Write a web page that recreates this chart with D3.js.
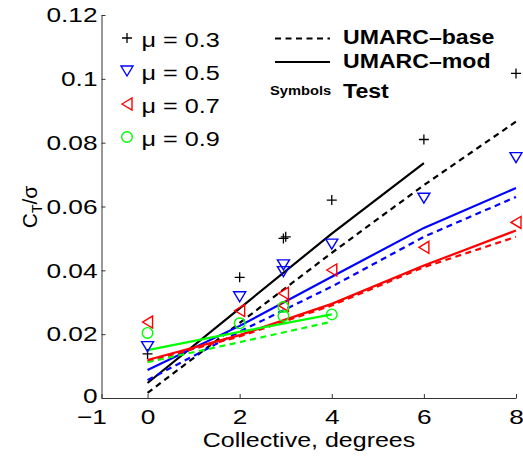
<!DOCTYPE html>
<html>
<head>
<meta charset="utf-8">
<script src="https://cdn.jsdelivr.net/npm/d3@7"></script>
<style>
body { margin:0; background:#fff; }
text { font-family: "Liberation Sans", Arial, sans-serif; }
</style>
</head>
<body>
<div id="chart"></div>
<script>
// collective pitch (deg) where the predictions are given
var predX = [0, 2, 4, 6, 8]
var predXshort = [0, 2, 4]

// UMARC predictions, C_T/sigma
var base03 = [0.0016, 0.0235, 0.0455, 0.0667, 0.0866]
var mod03 = [0.0047, 0.0281, 0.0515, 0.0736]
var base05 = [0.0056, 0.0208, 0.0349, 0.0505, 0.063]
var mod05 = [0.0088, 0.0226, 0.038, 0.0533, 0.0658]
var base07 = [0.0115, 0.0193, 0.029, 0.041, 0.0505]
var mod07 = [0.0119, 0.0197, 0.0295, 0.0415, 0.0525]
var base09 = [0.0112, 0.0175, 0.0239]
var mod09 = [0.015, 0.0207, 0.0262]

// test points
var test03x = [0, 2, 2.95, 3, 4, 6, 8]
var test03y = [0.0138, 0.0378, 0.0500, 0.0505, 0.062, 0.081, 0.1017]
var test05x = [0, 2, 2.95, 2.95, 4, 6, 8]
var test05y = [0.0161, 0.0317, 0.0417, 0.0396, 0.0482, 0.0626, 0.0753]
var test07x = [0, 2, 2.95, 2.95, 4, 6, 8]
var test07y = [0.0238, 0.0274, 0.0328, 0.029, 0.0401, 0.0472, 0.055]
var test09x = [0, 2, 2.95, 2.95, 4]
var test09y = [0.0204, 0.0234, 0.0285, 0.0257, 0.0262]

var xTicks = [-1, 0, 2, 4, 6, 8]
var yTicks = [0, 0.02, 0.04, 0.06, 0.08, 0.1, 0.12]
var muLabels = ["\u03bc = 0.3", "\u03bc = 0.5", "\u03bc = 0.7", "\u03bc = 0.9"]
var muColors = ["#000000", "#0000ff", "#ff0000", "#00ff00"]

var svg = d3.select('#chart')
  .append('svg')
  .attr('width', 523)
  .attr('height', 458)

var x = d3.scaleLinear().domain([-1, 8]).range([101.5, 516])
var y = d3.scaleLinear().domain([0, 0.12]).range([398, 15])

// axes
var xAxis = svg.append('g')
  .attr('transform', 'translate(0,398)')
  .call(d3.axisBottom(x).tickValues(xTicks).tickSize(-4).tickSizeOuter(0).tickPadding(11)
    .tickFormat(function(d) { return d < 0 ? "\u2212" + (-d) : d }))
xAxis.selectAll('text')
  .attr('font-size', 21)
  .attr('fill', '#000')
  .attr('x', function(d) { return d < 0 ? -8 : 0 })
  .attr('transform', 'scale(1.25,1)')
xAxis.selectAll('line, path').attr('stroke', '#333')

var yAxis = svg.append('g')
  .attr('transform', 'translate(101.5,0)')
  .call(d3.axisLeft(y).tickValues(yTicks).tickSize(-4).tickSizeOuter(0)
    .tickFormat(function(d) { return d === 0 ? "0" : String(+d.toFixed(2)) }))
yAxis.selectAll('text')
  .attr('font-size', 21)
  .attr('fill', '#000')
  .attr('x', -4 / 1.25)
  .attr('dy', function(d) { return d === 0 ? '0.22em' : '0.32em' })
  .attr('transform', 'scale(1.25,1)')
yAxis.selectAll('line, path').attr('stroke', '#333')

svg.append('text')
  .attr('x', 309)
  .attr('y', 447)
  .attr('font-size', 21)
  .attr('text-anchor', 'middle')
  .attr('transform', 'translate(309,0) scale(1.19,1) translate(-309,0)')
  .text('Collective, degrees')

var yl = svg.append('text')
  .attr('transform', 'translate(37,207) rotate(-90)')
  .attr('font-size', 21)
  .attr('text-anchor', 'middle')
yl.append('tspan').text('C')
yl.append('tspan').attr('font-size', 14).attr('dy', 5).text('T')
yl.append('tspan').attr('dy', -5).text('/\u03c3')

// prediction lines
var line = d3.line()
  .x(function(d) { return x(d[0]) })
  .y(function(d) { return y(d[1]) })

function drawLine(xs, ys, color, dashed) {
  svg.append('path')
    .datum(ys.map(function(v, i) { return [xs[i], v] }))
    .attr('d', line)
    .attr('fill', 'none')
    .attr('stroke', color)
    .attr('stroke-width', 2.2)
    .attr('stroke-dasharray', dashed ? '6,4.5' : null)
}
drawLine(predX, base03, muColors[0], true)
drawLine(predX.slice(0, 4), mod03, muColors[0], false)
drawLine(predX, base05, muColors[1], true)
drawLine(predX, mod05, muColors[1], false)
drawLine(predX, base07, muColors[2], true)
drawLine(predX, mod07, muColors[2], false)
drawLine(predXshort, base09, muColors[3], true)
drawLine(predXshort, mod09, muColors[3], false)

// marker shapes
function marker(g, kind, cx, cy, color) {
  if (kind === 0) {
    g.append('path').attr('d', 'M' + (cx - 5) + ',' + cy + 'h10M' + cx + ',' + (cy - 5) + 'v10')
      .attr('stroke', color).attr('stroke-width', 1.3).attr('fill', 'none')
  } else if (kind === 1) {
    g.append('path').attr('d', 'M' + (cx - 6) + ',' + (cy - 5) + 'L' + (cx + 6) + ',' + (cy - 5) + 'L' + cx + ',' + (cy + 5) + 'Z')
      .attr('stroke', color).attr('stroke-width', 1.4).attr('fill', 'none')
  } else if (kind === 2) {
    g.append('path').attr('d', 'M' + (cx - 5) + ',' + cy + 'L' + (cx + 5) + ',' + (cy - 6) + 'L' + (cx + 5) + ',' + (cy + 6) + 'Z')
      .attr('stroke', color).attr('stroke-width', 1.4).attr('fill', 'none')
  } else {
    g.append('circle').attr('cx', cx).attr('cy', cy).attr('r', 5.3)
      .attr('stroke', color).attr('stroke-width', 1.4).attr('fill', 'none')
  }
}

var testX = [test03x, test05x, test07x, test09x]
var testY = [test03y, test05y, test07y, test09y]
var pts = svg.append('g')
for (var k = 0; k < 4; k++) {
  for (var i = 0; i < testX[k].length; i++) {
    marker(pts, k, x(testX[k][i]), y(testY[k][i]), muColors[k])
  }
}

// legend for symbols
var leg = svg.append('g')
for (var k = 0; k < 4; k++) {
  marker(leg, k, 127, 38 + 33 * k, muColors[k])
  leg.append('text')
    .attr('font-size', 21)
    .attr('transform', 'translate(141.5,' + (47 + 33 * k) + ') scale(1.2,1)')
    .text(muLabels[k])
}

// legend for lines
svg.append('line').attr('x1', 275).attr('x2', 330).attr('y1', 38.5).attr('y2', 38.5)
  .attr('stroke', '#000').attr('stroke-width', 2.2).attr('stroke-dasharray', '6,4.5')
svg.append('line').attr('x1', 275).attr('x2', 330).attr('y1', 62).attr('y2', 62)
  .attr('stroke', '#000').attr('stroke-width', 2.2)
var legTexts = ['UMARC\u2013base', 'UMARC\u2013mod', 'Test']
var legY = [44, 68, 98]
for (var i = 0; i < 3; i++) {
  svg.append('text')
    .attr('font-size', 21)
    .attr('font-weight', 'bold')
    .attr('transform', 'translate(343,' + legY[i] + ') scale(1.1,1)')
    .text(legTexts[i])
}
svg.append('text')
  .attr('font-size', 13)
  .attr('font-weight', 'bold')
  .attr('transform', 'translate(270,95) scale(1.13,1)')
  .text('Symbols')
</script>
</body>
</html>
